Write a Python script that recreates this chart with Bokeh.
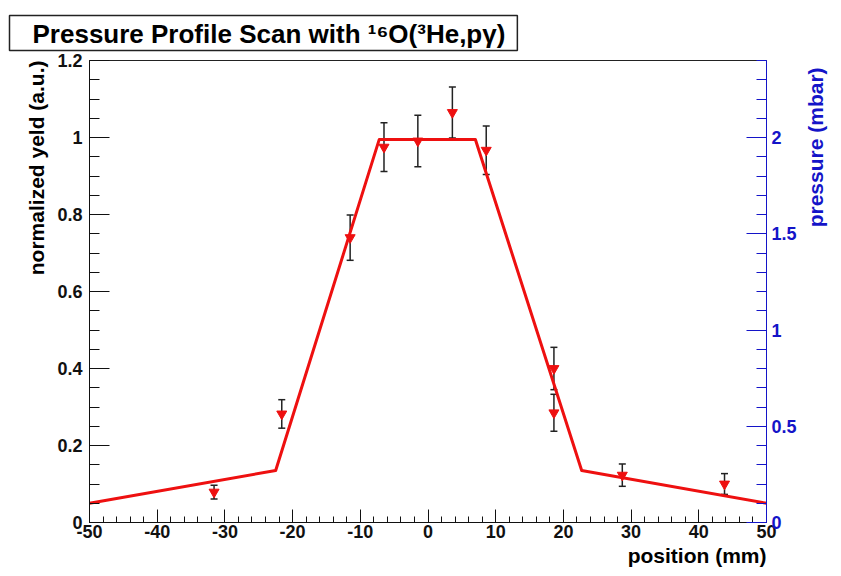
from bokeh.plotting import figure
from bokeh.models import (Range1d, LinearAxis, FixedTicker, CustomJSTickFormatter,
                          ColumnDataSource, Whisker, TeeHead, Title)
from bokeh.embed import file_html
from bokeh.resources import INLINE

# ---- data ----
positions = [-31.6, -21.6, -11.5, -6.5, -1.5, 3.6, 8.6, 18.6, 18.6, 28.7, 43.8]
yields = [0.079, 0.282, 0.740, 0.975, 0.991, 1.065, 0.967, 0.400, 0.285, 0.123, 0.100]
yield_err = [0.018, 0.037, 0.059, 0.063, 0.067, 0.066, 0.063, 0.055, 0.048, 0.029, 0.027]

profile_pos = [-50, -22.5, -7.2, 7.0, 22.7, 50]
profile_pressure = [0.10, 0.27, 1.99, 1.99, 0.27, 0.10]

x_ticks = [-50, -40, -30, -20, -10, 0, 10, 20, 30, 40, 50]
y_ticks = [0, 0.2, 0.4, 0.6, 0.8, 1.0, 1.2]
p_ticks = [0, 0.5, 1.0, 1.5, 2.0]

title_text = "Pressure Profile Scan with \u00b9\u2076O(\u00b3He,p\u03b3)"
ylabel_text = "normalized yeld (a.u.)"
y2label_text = "pressure (mbar)"
xlabel_text = "position (mm)"

FONT = "Liberation Sans"
BLUE = "#1414c8"
RED = "#ee1010"

p = figure(width=841, height=576, x_range=Range1d(-50, 50), y_range=Range1d(0, 1.2),
           output_backend="svg", toolbar_location=None,
           x_axis_type=None, y_axis_type=None,
           min_border_left=89, min_border_right=72, min_border_top=60, min_border_bottom=54)
p.extra_y_ranges = {"p": Range1d(0, 2.4)}
p.xgrid.visible = False
p.ygrid.visible = False
p.outline_line_color = "#222222"
p.outline_line_width = 1
p.background_fill_color = "white"
p.border_fill_color = "white"

fmt = CustomJSTickFormatter(code="return String(Math.round(tick*100)/100);")

def style(ax, color, maj, mnr):
    ax.axis_line_color = color
    ax.major_tick_line_color = color
    ax.minor_tick_line_color = color
    ax.major_label_text_color = color
    ax.major_label_text_font = FONT
    ax.major_label_text_font_style = "bold"
    ax.major_label_text_font_size = "18px"
    ax.major_tick_in = maj
    ax.major_tick_out = 0
    ax.minor_tick_in = mnr
    ax.minor_tick_out = 0
    ax.axis_line_width = 1
    ax.major_tick_line_width = 1
    ax.minor_tick_line_width = 1
    ax.axis_label_text_color = color
    ax.axis_label_text_font = FONT
    ax.axis_label_text_font_style = "bold"
    ax.axis_label_text_font_size = "21px"

xminor = [v for v in range(-50, 51, 2)]
xaxis = LinearAxis(ticker=FixedTicker(ticks=x_ticks, minor_ticks=xminor), formatter=fmt)
style(xaxis, "#111111", 13, 6)
xaxis.major_label_standoff = 2
p.add_layout(xaxis, "below")

yminor = [round(i * 0.05, 2) for i in range(0, 25)]
yaxis = LinearAxis(ticker=FixedTicker(ticks=y_ticks, minor_ticks=yminor), formatter=fmt)
style(yaxis, "#111111", 20, 10)
yaxis.major_label_standoff = 7
p.add_layout(yaxis, "left")

# right-hand pressure axis; its title reads bottom-to-top and sits near the top
pminor = [round(i * 0.1, 2) for i in range(0, 25)]
paxis = LinearAxis(y_range_name="p", ticker=FixedTicker(ticks=p_ticks, minor_ticks=pminor),
                   formatter=fmt, axis_label="\u00a0" * 11 + y2label_text)
style(paxis, BLUE, 20, 10)
paxis.major_label_standoff = 5
paxis.axis_label_standoff = 16
paxis.axis_label_orientation = 1.5707963
p.add_layout(paxis, "right")

# ---- data points with error bars ----
src = ColumnDataSource(dict(x=positions, y=yields,
                            lo=[a - b for a, b in zip(yields, yield_err)],
                            hi=[a + b for a, b in zip(yields, yield_err)]))
w = Whisker(source=src, base="x", lower="lo", upper="hi", dimension="height",
            line_color="#222222", line_width=1.5,
            lower_head=TeeHead(size=7, line_color="#222222", line_width=1.5),
            upper_head=TeeHead(size=7, line_color="#222222", line_width=1.5))
p.add_layout(w)
p.scatter("x", "y", source=src, marker="inverted_triangle", size=10,
          fill_color=RED, line_color=RED)

# ---- pressure profile (right axis) ----
p.line(profile_pos, profile_pressure, y_range_name="p", line_color=RED, line_width=3,
       line_join="round")

# ---- title and axis titles ----
def lab(text, color, align, standoff, offset=0):
    return Title(text=text, align=align, standoff=standoff, offset=offset,
                 text_font=FONT, text_font_style="bold", text_font_size="21px",
                 text_color=color)

t = Title(text=title_text, align="left", offset=-80, standoff=20,
          text_font=FONT, text_font_style="bold", text_font_size="26px", text_color="black",
          background_fill_color="white", border_line_color="#222222", border_line_width=1.5,
          padding=dict(left=23, right=12, top=3, bottom=2))
p.add_layout(t, "above")

p.add_layout(lab(ylabel_text, "black", "right", 14), "left")
p.add_layout(lab(xlabel_text, "black", "right", 2), "below")

open("out.html", "w").write(file_html(p, INLINE))
